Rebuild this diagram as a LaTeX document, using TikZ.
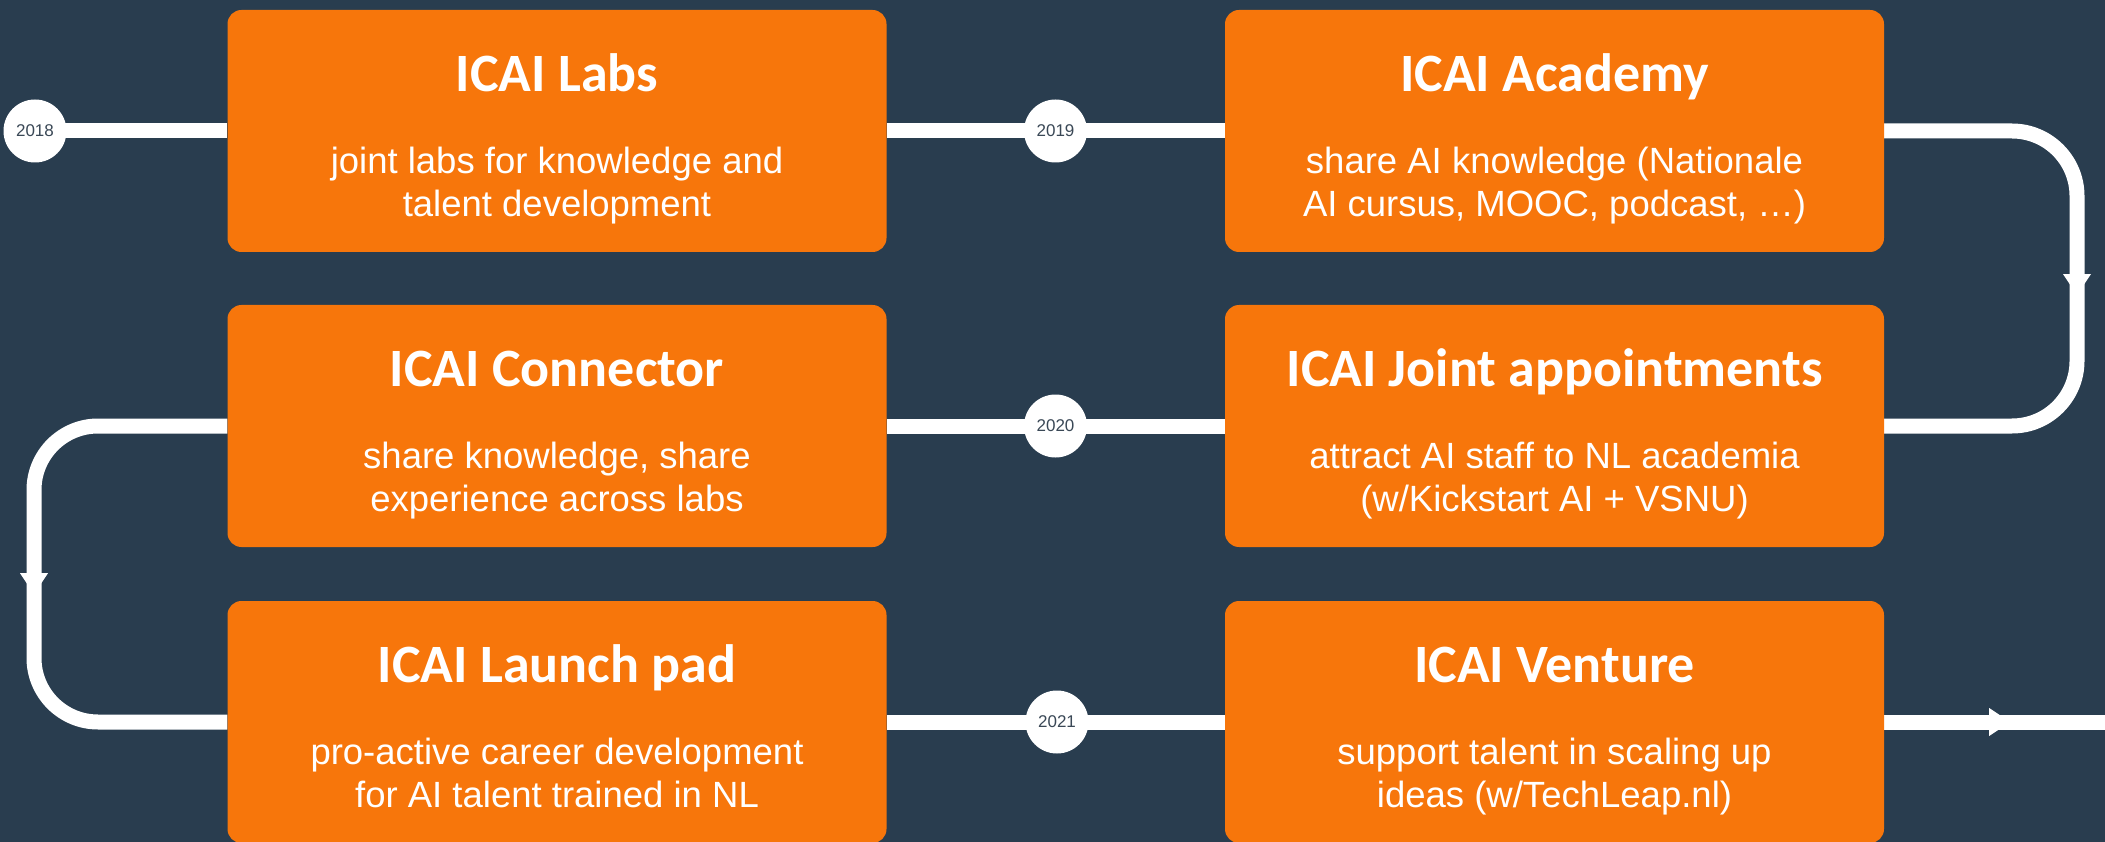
\documentclass[tikz,border=0pt]{standalone}
\usepackage{fontspec}
\setmainfont{Liberation Sans}
\newfontfamily\titlefont{Carlito}
\usetikzlibrary{decorations.markings}
\definecolor{bgc}{HTML}{293D4F}
\definecolor{orng}{HTML}{F7760B}
\definecolor{yeartext}{HTML}{3A4856}
\pgfdeclarelayer{bg}
\pgfdeclarelayer{lines}
\pgfsetlayers{bg,lines,main}
\tikzset{
  card/.style={draw=none, fill=orng, rounded corners=14pt, minimum width=659pt, minimum height=242pt, inner sep=0pt},
  yearnode/.style={circle, fill=white, minimum size=63pt, inner sep=0pt, text=yeartext, font=\fontsize{17}{20}\selectfont},
  titletext/.style={anchor=base, text=white, inner sep=0pt, font=\titlefont\bfseries\fontsize{54}{62}\selectfont},
  bodytext/.style={anchor=base, text=white, inner sep=0pt, font=\fontsize{36.5}{43}\selectfont},
  conn/.style={draw=white, line width=15pt},
  midarrow/.style={postaction={decorate, decoration={markings, mark=at position #1 with {\fill[white, sharp corners] (-10pt,14pt) -- (11pt,0pt) -- (-10pt,-14pt) -- cycle;}}}}
}
\newcommand\mycard[5]{%
  \node[card] (#1) at (#2) {};
  \node[titletext] (#1-title) at ([yshift=-82pt]#1.north) {#3};
  \node[bodytext] (#1-body) at ([yshift=-164pt]#1.north) {\begin{tabular}[t]{@{}c@{}}#4\\#5\end{tabular}};
}
\begin{document}
\begin{tikzpicture}[x=1pt,y=-1pt]
\useasboundingbox (0,0) rectangle (2105,842);
\begin{pgfonlayer}{bg}
  \fill[bgc] (0,0) rectangle (2105,842);
\end{pgfonlayer}

\mycard{labs}{557,131}{ICAI Labs}{joint labs for knowledge and}{talent development}
\mycard{academy}{1554.5,131}{ICAI Academy}{share AI knowledge (Nationale}{AI cursus, MOOC, podcast, …)}
\mycard{joint}{1554.5,426}{ICAI Joint appointments}{attract AI staff to NL academia}{(w/Kickstart AI + VSNU)}
\mycard{connector}{557,426}{ICAI Connector}{share knowledge, share}{experience across labs}
\mycard{launch}{557,722}{ICAI Launch pad}{pro-active career development}{for AI talent trained in NL}
\mycard{venture}{1554.5,722}{ICAI Venture}{support talent in scaling up}{ideas (w/TechLeap.nl)}

\node[yearnode] (y2018) at (35,131) {2018};
\node[yearnode] (y2019) at (1055.5,131) {2019};
\node[yearnode] (y2020) at (1055.5,426) {2020};
\node[yearnode] (y2021) at (1057,722) {2021};

\coordinate (rx) at (2077,0);
\coordinate (lx) at (34,0);
\coordinate (endpt) at (2105,722);

\begin{pgfonlayer}{lines}
  \draw[conn] (y2018.center) -- (labs.west);
  \draw[conn] (labs.east) -- (academy.west);
  \draw[conn, rounded corners=65pt, midarrow=318pt] (academy.east) -- (academy.east -| rx) -- (joint.east -| rx) -- (joint.east);
  \draw[conn] (joint.west) -- (connector.east);
  \draw[conn, rounded corners=64pt, midarrow=323pt] (connector.west) -- (connector.west -| lx) -- (launch.west -| lx) -- (launch.west);
  \draw[conn] (launch.east) -- (venture.west);
  \draw[conn, midarrow=115pt] (venture.east) -- (endpt);
\end{pgfonlayer}
\end{tikzpicture}
\end{document}
